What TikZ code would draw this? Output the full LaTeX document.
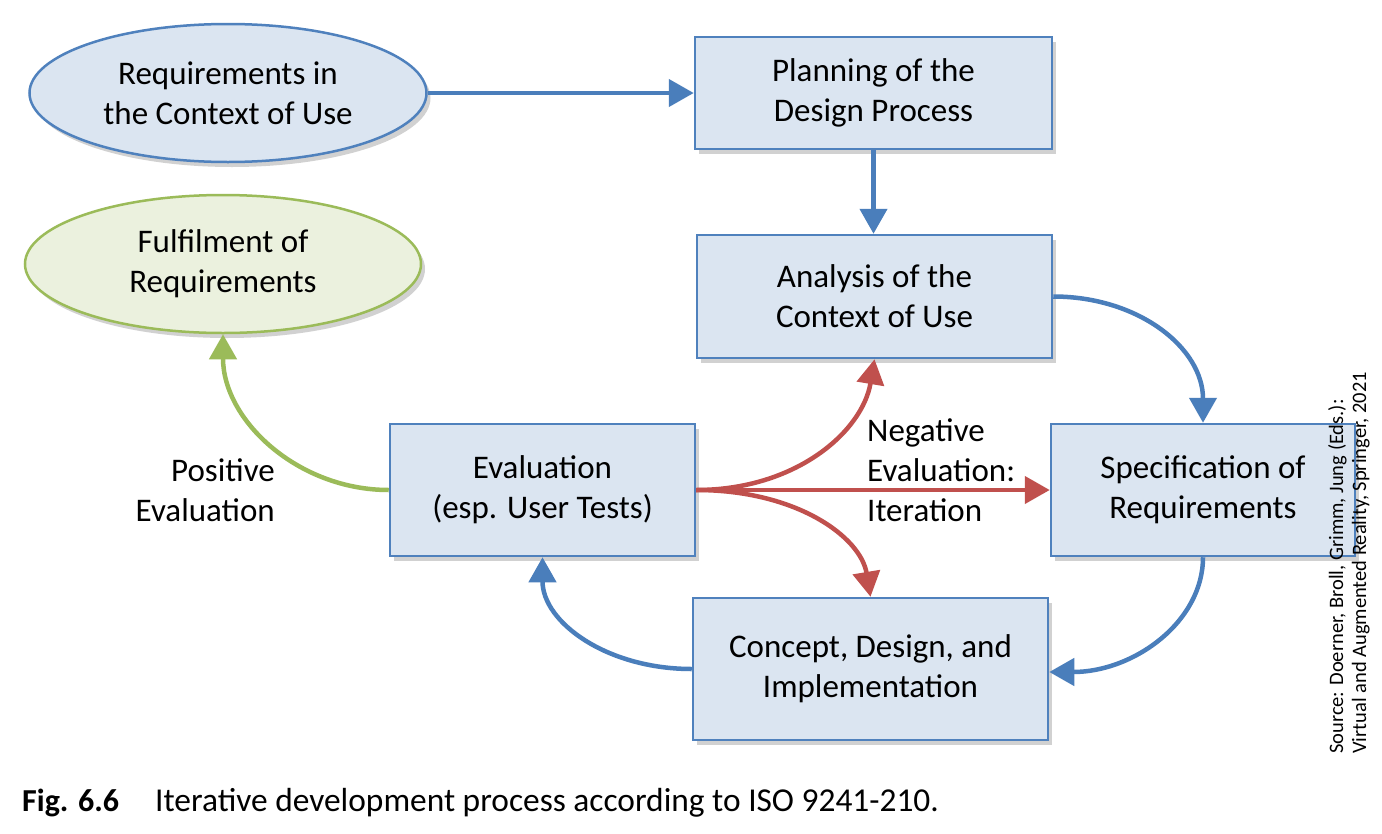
\documentclass[tikz,border=0pt]{standalone}
\usepackage{fontspec}
\setmainfont{Carlito}
\usetikzlibrary{shapes.geometric,arrows.meta,shadows}
\definecolor{boxfill}{HTML}{DBE5F1}
\definecolor{boxline}{HTML}{4F81BD}
\definecolor{arrblue}{HTML}{4A7EBB}
\definecolor{arrred}{HTML}{C0504D}
\definecolor{arrgreen}{HTML}{9BBB59}
\definecolor{greenfill}{HTML}{EBF1DE}
\tikzset{
  shade/.style={drop shadow={shadow xshift=4pt,shadow yshift=-5pt,opacity=0.18,fill=black}},
  stepbox/.style={rectangle,draw=boxline,fill=boxfill,line width=2.5pt,align=center,shade,
    font=\fontsize{33}{40}\selectfont,inner sep=0pt},
  startell/.style={ellipse,draw=boxline,fill=boxfill,line width=2.5pt,align=center,shade,
    font=\fontsize{33}{40}\selectfont,inner sep=0pt},
  endell/.style={ellipse,draw=arrgreen,fill=greenfill,line width=2.5pt,align=center,shade,
    font=\fontsize{33}{40}\selectfont,inner sep=0pt},
  tip/.style={-{Triangle[length=25pt,width=27pt]}},
  blueconn/.style={draw=arrblue,line width=4.5pt,tip},
  redconn/.style={draw=arrred,line width=4.5pt,tip},
  greenconn/.style={draw=arrgreen,line width=4.5pt,tip},
  lbl/.style={font=\fontsize{33}{40}\selectfont,inner sep=0pt},
}
\begin{document}
\begin{tikzpicture}[x=1pt,y=-1pt]
\useasboundingbox[fill=white] (0,0) rectangle (1382,833);

\node[startell,minimum width=397pt,minimum height=138pt] (req) at (228,93) {Requirements in\\the Context of Use};
\node[endell,minimum width=396pt,minimum height=138pt] (ful) at (223,264) {Fulfilment of\\Requirements};
\node[stepbox,minimum width=357pt,minimum height=112pt] (plan) at (873.5,93) {Planning of the\\Design Process};
\node[stepbox,minimum width=355pt,minimum height=123pt] (anal) at (874.5,296.5) {Analysis of the\\Context of Use};
\node[stepbox,minimum width=304pt,minimum height=132pt] (spec) at (1203,490) {Specification of\\Requirements};
\node[stepbox,minimum width=305pt,minimum height=132pt] (eval) at (542.5,490) {Evaluation\\(esp. User Tests)};
\node[stepbox,minimum width=355pt,minimum height=142pt] (conc) at (870.5,669) {Concept, Design, and\\Implementation};

\node[lbl,align=right,anchor=east] (pos) at (275,490) {Positive\\Evaluation};
\node[lbl,align=left,anchor=west] (neg) at (867,470) {Negative\\Evaluation:\\Iteration};

% blue flow
\draw[blueconn] (req.east |- plan.west) -- (plan.west);
\draw[blueconn] (plan.south) -- (plan.south |- anal.north);
\draw[blueconn] (anal.east) .. controls +(85,0) and +(0,-75) .. (spec.north);
\draw[blueconn] (spec.south) .. controls +(0,65) and +(84,0) .. ([yshift=-3pt]conc.east);
\draw[blueconn] (conc.west) .. controls +(-85,0) and +(0,65) .. (eval.south);
% green
\draw[greenconn] (eval.west) .. controls +(-91,0) and +(0,86) .. (ful.south);
% red
\draw[redconn] (eval.east) .. controls +(100,0) and +(-12,72) .. (anal.south);
\draw[redconn] (eval.east) -- (spec.west);
\draw[redconn] (eval.east) .. controls +(100,0) and +(-10,-60) .. (conc.north);

% source note
\node[rotate=90,align=left,anchor=north west,inner sep=0pt,
  font=\fontsize{20.5}{23}\selectfont] (src) at (1328,754)
  {Source: Doerner, Broll, Grimm, Jung (Eds.):\\Virtual and Augmented Reality, Springer, 2021};

% caption
\node[anchor=base west,inner sep=0pt,font=\fontsize{32}{36}\selectfont\bfseries] (fig) at (22,811) {Fig. 6.6};
\node[anchor=base west,inner sep=0pt,font=\fontsize{33.4}{38}\selectfont] (cap) at (155,811) {Iterative development process according to ISO 9241-210.};
\end{tikzpicture}
\end{document}
